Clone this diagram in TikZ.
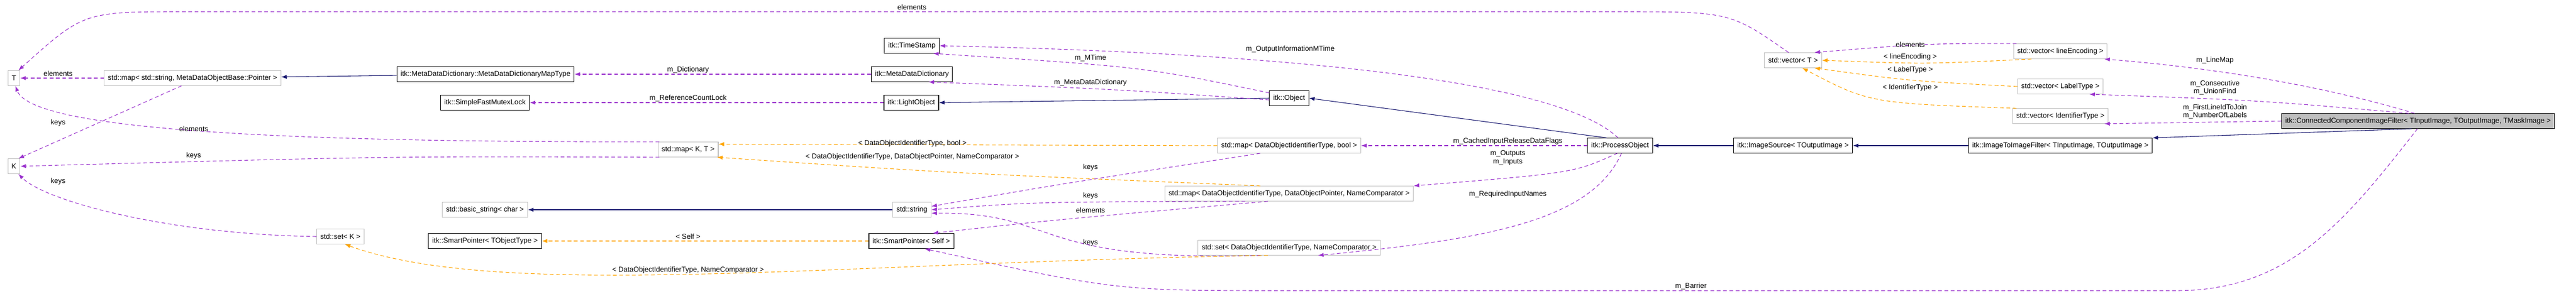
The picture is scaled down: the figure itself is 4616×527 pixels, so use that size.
\documentclass[tikz,border=0pt]{standalone}
\usepackage{fontspec}
\setmainfont{Liberation Sans}
\usetikzlibrary{positioning}
\usetikzlibrary{arrows.meta}
\definecolor{usecol}{RGB}{154,50,205}
\definecolor{tplcol}{RGB}{255,165,0}
\definecolor{inhcol}{RGB}{25,25,112}
\definecolor{extcol}{RGB}{191,191,191}
\definecolor{focuscol}{RGB}{191,191,191}

\begin{document}
\begin{tikzpicture}[x=0.75pt, y=-0.75pt, >={Latex[length=7.5pt,width=5.5pt]},
 font=\fontsize{9.6}{11}\selectfont,
 cls/.style={draw=black, thick, minimum height=20pt, inner xsep=5pt},
 ext/.style={draw=extcol, thick, minimum height=20pt, inner xsep=5pt},
 focus/.style={draw=black, thick, fill=focuscol, minimum height=20pt, inner xsep=5pt},
 uses/.style={usecol, dash pattern=on 5pt off 3.5pt, thick, ->},
 tmpl/.style={tplcol, dash pattern=on 5pt off 3.5pt, thick, ->},
 inherit/.style={inhcol, thick, ->},
 lab/.style={inner sep=1pt}]
\useasboundingbox (0,0) rectangle (4616,527);

% nodes
\node [ext] (T) at (25,140) {T};
\node [ext] (K) at (25,298) {K};
\node [ext] (mapstr) at (345,140) {std::map< std::string, MetaDataObjectBase::Pointer >};
\node [cls] (maptype) at (870,133) {itk::MetaDataDictionary::MetaDataDictionaryMapType};
\node [cls] (mutex) at (869,184) {itk::SimpleFastMutexLock};
\node [ext] (bstr) at (869,376) {std::basic\_string< char >};
\node [ext] (setK) at (610,424) {std::set< K >};
\node [cls] (spobj) at (869,432) {itk::SmartPointer< TObjectType >};
\node [cls] (stamp) at (1634,82) {itk::TimeStamp};
\node [cls] (mdd) at (1634,133) {itk::MetaDataDictionary};
\node [cls] (light) at (1633,184) {itk::LightObject};
\node [ext] (mapKT) at (1233,268) {std::map< K, T >};
\node [ext] (str) at (1634,376) {std::string};
\node [cls] (spself) at (1633,432) {itk::SmartPointer< Self >};
\node [cls] (obj) at (2310,176) {itk::Object};
\node [ext] (mapbool) at (2310,261) {std::map< DataObjectIdentifierType, bool >};
\node [ext] (mapdop) at (2310,347) {std::map< DataObjectIdentifierType, DataObjectPointer, NameComparator >};
\node [ext] (setdoi) at (2310,444) {std::set< DataObjectIdentifierType, NameComparator >};
\node [cls] (proc) at (2903,261) {itk::ProcessObject};
\node [ext] (vecT) at (3213,108) {std::vector< T >};
\node [cls] (src) at (3213,261) {itk::ImageSource< TOutputImage >};
\node [ext] (vecline) at (3692,92) {std::vector< lineEncoding >};
\node [ext] (veclabel) at (3692,155) {std::vector< LabelType >};
\node [ext] (vecid) at (3692,208) {std::vector< IdentifierType >};
\node [cls] (i2i) at (3692,261) {itk::ImageToImageFilter< TInputImage, TOutputImage >};
\node [focus] (ccif) at (4333,217) {itk::ConnectedComponentImageFilter< TInputImage, TOutputImage, TMaskImage >};

% inheritance
\draw [inherit] (maptype) -- (mapstr);
\draw [inherit] (obj.west) -- (light.east);
\draw [inherit] (proc.150) -- (obj.east);
\draw [inherit] (src) -- (proc);
\draw [inherit] (i2i) -- (src);
\draw [inherit] (ccif.230) -- (i2i.north east);
\draw [inherit] (str) -- (bstr);

% members
\draw [uses] (vecT.120) .. controls (3100,21) .. (2900,21) -- (330,21) .. controls (150,21) .. (T.60);
\node [lab] at (1634,13) {elements};
\draw [uses] (mapstr) -- (T);
\node [lab] at (104,132) {elements};
\draw [uses] (mapstr.-145) -- (K.60);
\node [lab] at (104,220) {keys};
\draw [uses] (mdd) -- (maptype);
\node [lab] at (1233,125) {m\_Dictionary};
\draw [uses] (light) -- (mutex);
\node [lab] at (1233,176) {m\_ReferenceCountLock};
\draw [uses] (obj.165) .. controls (2050,120) .. (stamp.-20);
\node [lab] at (1954,104) {m\_MTime};
\draw [uses] (obj.185) .. controls (2000,160) .. (mdd.-25);
\node [lab] at (1954,148) {m\_MetaDataDictionary};
\draw [uses] (proc.105) .. controls (2820,170) and (2500,100) .. (stamp.east);
\node [lab] at (2312,88) {m\_OutputInformationMTime};
\draw [uses] (proc) -- (mapbool);
\node [lab] at (2702,253) {m\_CachedInputReleaseDataFlags};
\draw [uses] (proc.-110) .. controls (2820,310) .. (mapdop.north east);
\node [lab, align=center] at (2702,283) {m\_Outputs\\m\_Inputs};
\draw [uses] (proc.-80) .. controls (2850,400) and (2650,430) .. (setdoi.-15);
\node [lab] at (2702,348) {m\_RequiredInputNames};
\draw [uses] (ccif.115) .. controls (4150,150) and (3950,120) .. (vecline.-10);
\node [lab] at (3969,108) {m\_LineMap};
\draw [uses] (ccif.140) .. controls (4050,180) .. (veclabel.-15);
\node [lab, align=center] at (3969,157) {m\_Consecutive\\m\_UnionFind};
\draw [uses] (ccif.west) -- (vecid.-10);
\node [lab, align=center] at (3969,200) {m\_FirstLineIdToJoin\\m\_NumberOfLabels};
\draw [uses] (ccif.-95) .. controls (4200,400) and (4100,521) .. (3900,521) -- (2300,521) .. controls (2000,521) .. (spself.-30);
\node [lab] at (3030,513) {m\_Barrier};
\draw [uses] (vecline.170) .. controls (3450,78) .. (vecT.20);
\node [lab] at (3423,80) {elements};
\draw [tmpl] (vecline.-165) .. controls (3450,115) .. (vecT.east);
\node [lab] at (3423,102) {< lineEncoding >};
\draw [tmpl] (veclabel.west) .. controls (3420,145) .. (vecT.-20);
\node [lab] at (3423,125) {< LabelType >};
\draw [tmpl] (vecid.170) .. controls (3350,185) .. (vecT.-40);
\node [lab] at (3423,157) {< IdentifierType >};
\draw [uses] (mapKT.165) .. controls (600,255) and (60,240) .. (T.-80);
\node [lab] at (347,231) {elements};
\draw [uses] (mapKT.-165) .. controls (700,280) .. (K.east);
\node [lab] at (347,279) {keys};
\draw [tmpl] (mapbool.west) -- (mapKT.10);
\node [lab] at (1635,257) {< DataObjectIdentifierType, bool >};
\draw [tmpl] (mapdop.165) .. controls (1700,310) .. (mapKT.-15);
\node [lab] at (1635,281) {< DataObjectIdentifierType, DataObjectPointer, NameComparator >};
\draw [uses] (mapbool.-165) .. controls (1900,330) .. (str.10);
\node [lab] at (1954,300) {keys};
\draw [uses] (mapdop.-170) .. controls (1850,362) .. (str.east);
\node [lab] at (1954,351) {keys};
\draw [uses] (mapdop.-160) .. controls (1880,395) .. (spself.20);
\node [lab] at (1954,377) {elements};
\draw [uses] (setdoi.-165) .. controls (1840,470) and (1900,380) .. (str.-10);
\node [lab] at (1954,435) {keys};
\draw [tmpl] (spself) -- (spobj);
\node [lab] at (1233,424) {< Self >};
\draw [tmpl] (setdoi.-160) .. controls (1500,470) and (900,540) .. (setK.-60);
\node [lab] at (1233,484) {< DataObjectIdentifierType, NameComparator >};
\draw [uses] (setK.west) .. controls (300,420) and (80,360) .. (K.-60);
\node [lab] at (104,325) {keys};
\end{tikzpicture}
\end{document}
